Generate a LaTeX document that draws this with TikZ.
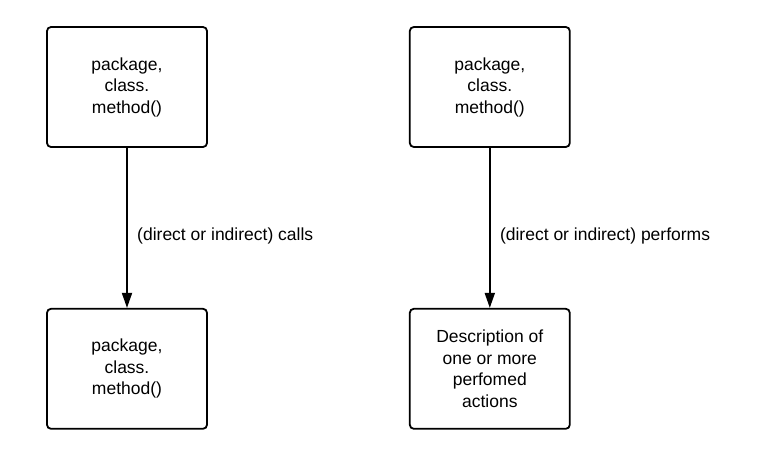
\documentclass[tikz,border=0pt]{standalone}
\usepackage{fontspec}
\setmainfont{Liberation Sans}
\usetikzlibrary{
  arrows.meta,
  positioning
}

\begin{document}
\begin{tikzpicture}[
      x=1pt, y=1pt,
      caixa/.style={draw=black, line width=1.8pt, rounded corners=4pt, minimum width=160pt, minimum height=120pt, align=center, font=\fontsize{17.5}{21.5}\selectfont, inner sep=0pt},
      seta/.style={-{Triangle[length=15pt,width=10pt]}, line width=1.8pt},
      rotulo/.style={anchor=west, font=\fontsize{17.5}{20}\selectfont, xshift=6pt}
  ]
      \useasboundingbox (0,0) rectangle (763,-472);

      % Caixas de cima
      \node[caixa] (mA) at (127,-87) {package,\\class.\\method()};
      \node[caixa, right=201pt of mA] (mB) {package,\\class.\\method()};

      % Caixas de baixo
      \node[caixa, below=160pt of mA] (mC) {package,\\class.\\method()};
      \node[caixa, below=160pt of mB] (desc) {Description of\\one or more\\perfomed\\actions};

      \draw[seta] (mA) -- node[rotulo, pos=0.55] {(direct or indirect) calls} (mC);
      \draw[seta] (mB) -- node[rotulo, pos=0.55] {(direct or indirect) performs} (desc);

  \end{tikzpicture}
\end{document}
